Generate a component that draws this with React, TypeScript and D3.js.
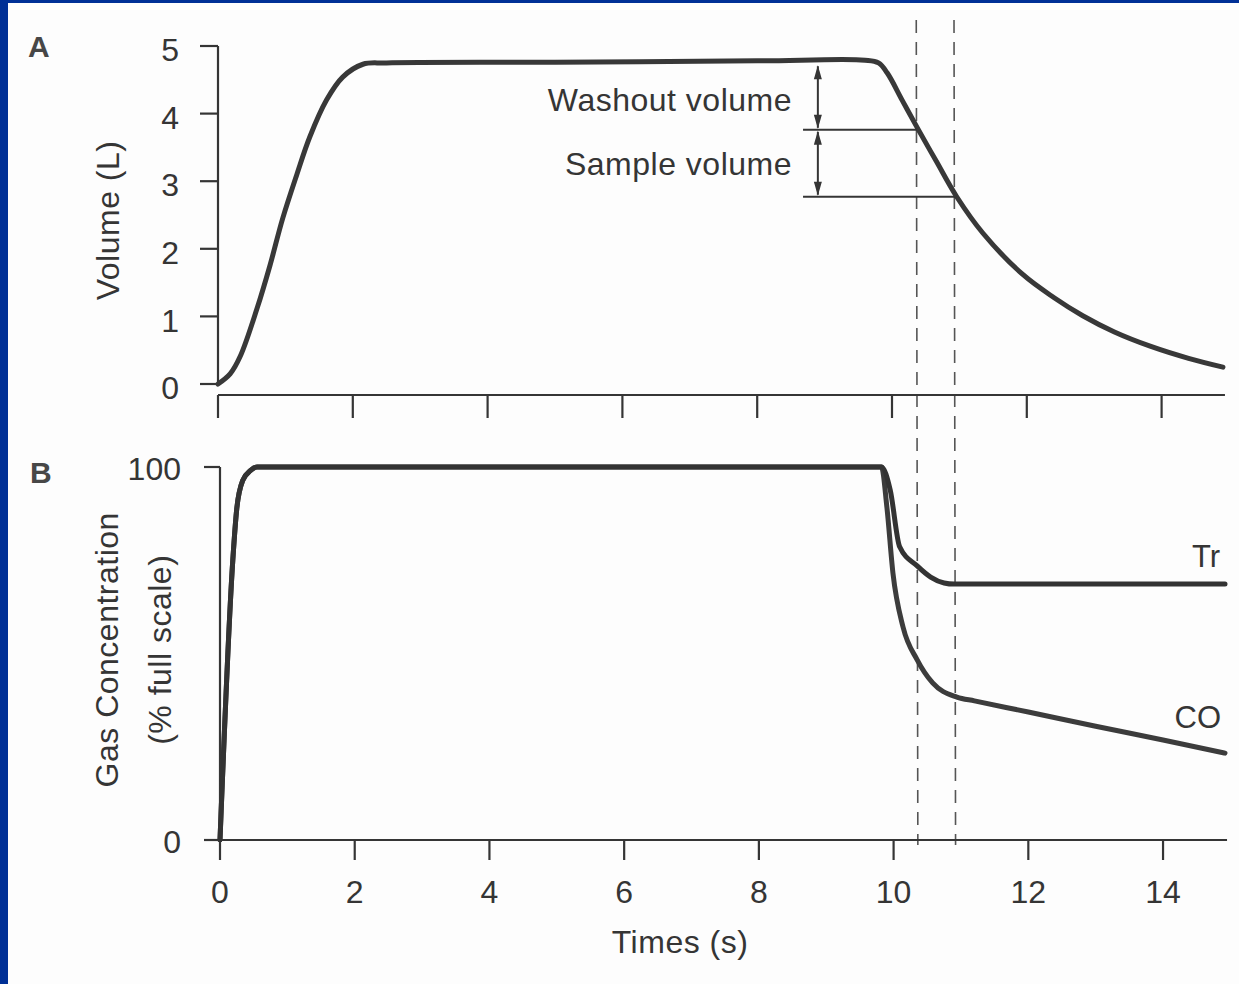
import React from 'react'
import * as d3 from 'd3'

// panel A: lung volume during the breath-hold manoeuvre
const volumeTime = [0, 0.18, 0.33, 0.58, 0.77, 0.96, 1.17, 1.36, 1.61, 1.85, 2.15, 2.5, 5, 8, 9.6, 9.8, 9.93, 10.15, 10.37, 10.66, 10.96, 11.35, 11.94, 12.4, 12.83, 13.3, 13.83, 14.4, 14.91]
const volumeL = [0, 0.15, 0.41, 1.12, 1.75, 2.45, 3.1, 3.65, 4.2, 4.54, 4.73, 4.75, 4.76, 4.78, 4.79, 4.75, 4.6, 4.2, 3.8, 3.29, 2.77, 2.23, 1.62, 1.28, 1.01, 0.77, 0.56, 0.38, 0.25]

// panel B: gas concentrations
const trTime = [0, 0.19, 0.25, 0.34, 0.45, 0.55, 0.8, 9.82, 9.95, 10.09, 10.35, 10.55, 10.75, 10.9, 14.92]
const trConc = [0, 75, 89, 96.5, 99, 100, 100, 100, 93.8, 78.6, 73.5, 70.5, 68.9, 68.6, 68.6]
const coTime = [0, 0.19, 0.25, 0.34, 0.45, 0.55, 0.8, 9.82, 9.9, 9.99, 10.14, 10.35, 10.58, 10.94, 11.2, 12, 13, 14, 14.92]
const coConc = [0, 75, 89, 96.5, 99, 100, 100, 100, 89.3, 71.6, 57.1, 48.3, 42.1, 38.3, 37.3, 34.3, 30.5, 26.8, 23.3]

const volumeTicks = [0, 1, 2, 3, 4, 5]
const concTicks = [0, 100]
const timeTicks = [0, 2, 4, 6, 8, 10, 12, 14]
const dashTimes = [10.36, 10.92]

// annotation levels (L)
const plateauLevel = 4.76
const washoutLevel = 3.76
const sampleLevel = 2.77
const washoutCross = 10.37
const sampleCross = 10.96

const FONT = '"Liberation Sans", Arial, Helvetica, sans-serif'
const INK = '#353535'
const FS = 32
const LS = 0.5

export default function App() {
  const xA = d3.scaleLinear().domain([0, 15]).range([218, 218 + 15 * 67.4])
  const yA = d3.scaleLinear().domain([0, 5]).range([384, 46])
  const xB = d3.scaleLinear().domain([0, 15]).range([220, 220 + 15 * 67.36])
  const yB = d3.scaleLinear().domain([0, 100]).range([840, 467])

  const volLine = d3.line<number>()
    .x((d, i) => xA(volumeTime[i]))
    .y(d => yA(d))
    .curve(d3.curveCatmullRom.alpha(0.5))
  const trLine = d3.line<number>()
    .x((d, i) => xB(trTime[i]))
    .y(d => yB(d))
    .curve(d3.curveMonotoneX)
  const coLine = d3.line<number>()
    .x((d, i) => xB(coTime[i]))
    .y(d => yB(d))
    .curve(d3.curveMonotoneX)

  const axisA = 395
  const arrowX = xA(8.9)
  const guideStart = xA(8.68)

  const arrowHead = (x: number, y: number, up: boolean) => {
    const l = up ? 14 : -14
    return `M${x},${y} L${x - 4},${y + l} L${x + 4},${y + l} Z`
  }

  return (
    <svg width={1239} height={984} style={{ position: 'absolute', left: 0, top: 0 }}
      fontFamily={FONT}>
      <rect width={1239} height={984} fill="#003096" />
      <rect x={8} y={3} width={1231} height={981} fill="#fdfdfd" />

      {/* dashed time markers */}
      {dashTimes.map((t, i) => (
        <line key={i} x1={xA(t)} y1={20} x2={xB(t)} y2={845}
          stroke="#555" strokeWidth={1.6} strokeDasharray="13 9" />
      ))}

      {/* panel A axes */}
      <g stroke={INK} strokeWidth={2.2} fill="none">
        <line x1={xA(0)} y1={yA(5)} x2={xA(0)} y2={yA(0)} />
        {volumeTicks.map(v => (
          <line key={v} x1={xA(0) - 18} y1={yA(v)} x2={xA(0)} y2={yA(v)} />
        ))}
        <line x1={xA(0)} y1={axisA} x2={xA(14.94)} y2={axisA} />
        {timeTicks.map(t => (
          <line key={t} x1={xA(t)} y1={axisA} x2={xA(t)} y2={axisA + 23} />
        ))}
      </g>
      {volumeTicks.map(v => (
        <text key={v} x={179} y={yA(v) + 4} dy="0.35em" textAnchor="end"
          fontSize={FS} fill={INK}>{v}</text>
      ))}
      <text transform={`translate(119,${yA(2.42)}) rotate(-90)`} textAnchor="middle"
        fontSize={FS} letterSpacing={LS} fill={INK}>Volume (L)</text>
      <text x={28} y={57} fontSize={30} fontWeight="bold" fill="#474747">A</text>

      {/* panel A curve */}
      <path d={volLine(volumeL) ?? ''} fill="none" stroke="#383838" strokeWidth={5}
        strokeLinejoin="round" strokeLinecap="round" />

      {/* washout / sample annotation */}
      <g stroke={INK} strokeWidth={2}>
        <line x1={guideStart} y1={yA(washoutLevel)} x2={xA(washoutCross)} y2={yA(washoutLevel)} />
        <line x1={guideStart} y1={yA(sampleLevel)} x2={xA(sampleCross)} y2={yA(sampleLevel)} />
        <line x1={arrowX} y1={yA(plateauLevel) + 4} x2={arrowX} y2={yA(washoutLevel) - 2} />
        <line x1={arrowX} y1={yA(washoutLevel) + 2} x2={arrowX} y2={yA(sampleLevel) - 2} />
      </g>
      <g fill={INK}>
        <path d={arrowHead(arrowX, yA(plateauLevel) + 3, true)} />
        <path d={arrowHead(arrowX, yA(washoutLevel) - 1, false)} />
        <path d={arrowHead(arrowX, yA(washoutLevel) + 1, true)} />
        <path d={arrowHead(arrowX, yA(sampleLevel) - 1, false)} />
      </g>
      <text x={792} y={111} textAnchor="end" fontSize={FS} letterSpacing={LS} fill={INK}>Washout volume</text>
      <text x={792} y={175} textAnchor="end" fontSize={FS} letterSpacing={LS} fill={INK}>Sample volume</text>

      {/* panel B axes */}
      <g stroke={INK} strokeWidth={2.2} fill="none">
        <line x1={xB(0)} y1={yB(100)} x2={xB(0)} y2={yB(0)} />
        {concTicks.map(v => (
          <line key={v} x1={xB(0) - 16} y1={yB(v)} x2={xB(0)} y2={yB(v)} />
        ))}
        <line x1={xB(0)} y1={yB(0)} x2={xB(14.95)} y2={yB(0)} />
        {timeTicks.map(t => (
          <line key={t} x1={xB(t)} y1={yB(0)} x2={xB(t)} y2={yB(0) + 20} />
        ))}
      </g>
      {concTicks.map(v => (
        <text key={v} x={181} y={yB(v) + 2} dy="0.35em" textAnchor="end"
          fontSize={FS} fill={INK}>{v}</text>
      ))}
      {timeTicks.map(t => (
        <text key={t} x={xB(t)} y={903} textAnchor="middle" fontSize={FS} fill={INK}>{t}</text>
      ))}
      <text transform={`translate(118,${yB(51)}) rotate(-90)`} textAnchor="middle"
        fontSize={FS} letterSpacing={LS} fill={INK}>Gas Concentration</text>
      <text transform={`translate(171,${yB(51)}) rotate(-90)`} textAnchor="middle"
        fontSize={FS} letterSpacing={LS} fill={INK}>(% full scale)</text>
      <text x={xB(6.83)} y={953} textAnchor="middle" fontSize={FS} letterSpacing={LS} fill={INK}>Times (s)</text>
      <text x={30} y={483} fontSize={30} fontWeight="bold" fill="#474747">B</text>

      {/* panel B curves */}
      <path d={coLine(coConc) ?? ''} fill="none" stroke="#3c3c3c" strokeWidth={5}
        strokeLinejoin="round" strokeLinecap="round" />
      <path d={trLine(trConc) ?? ''} fill="none" stroke="#333" strokeWidth={5}
        strokeLinejoin="round" strokeLinecap="round" />
      <text x={1220} y={567} textAnchor="end" fontSize={31} fill={INK}>Tr</text>
      <text x={1221} y={728} textAnchor="end" fontSize={31} fill={INK}>CO</text>
    </svg>
  )
}
